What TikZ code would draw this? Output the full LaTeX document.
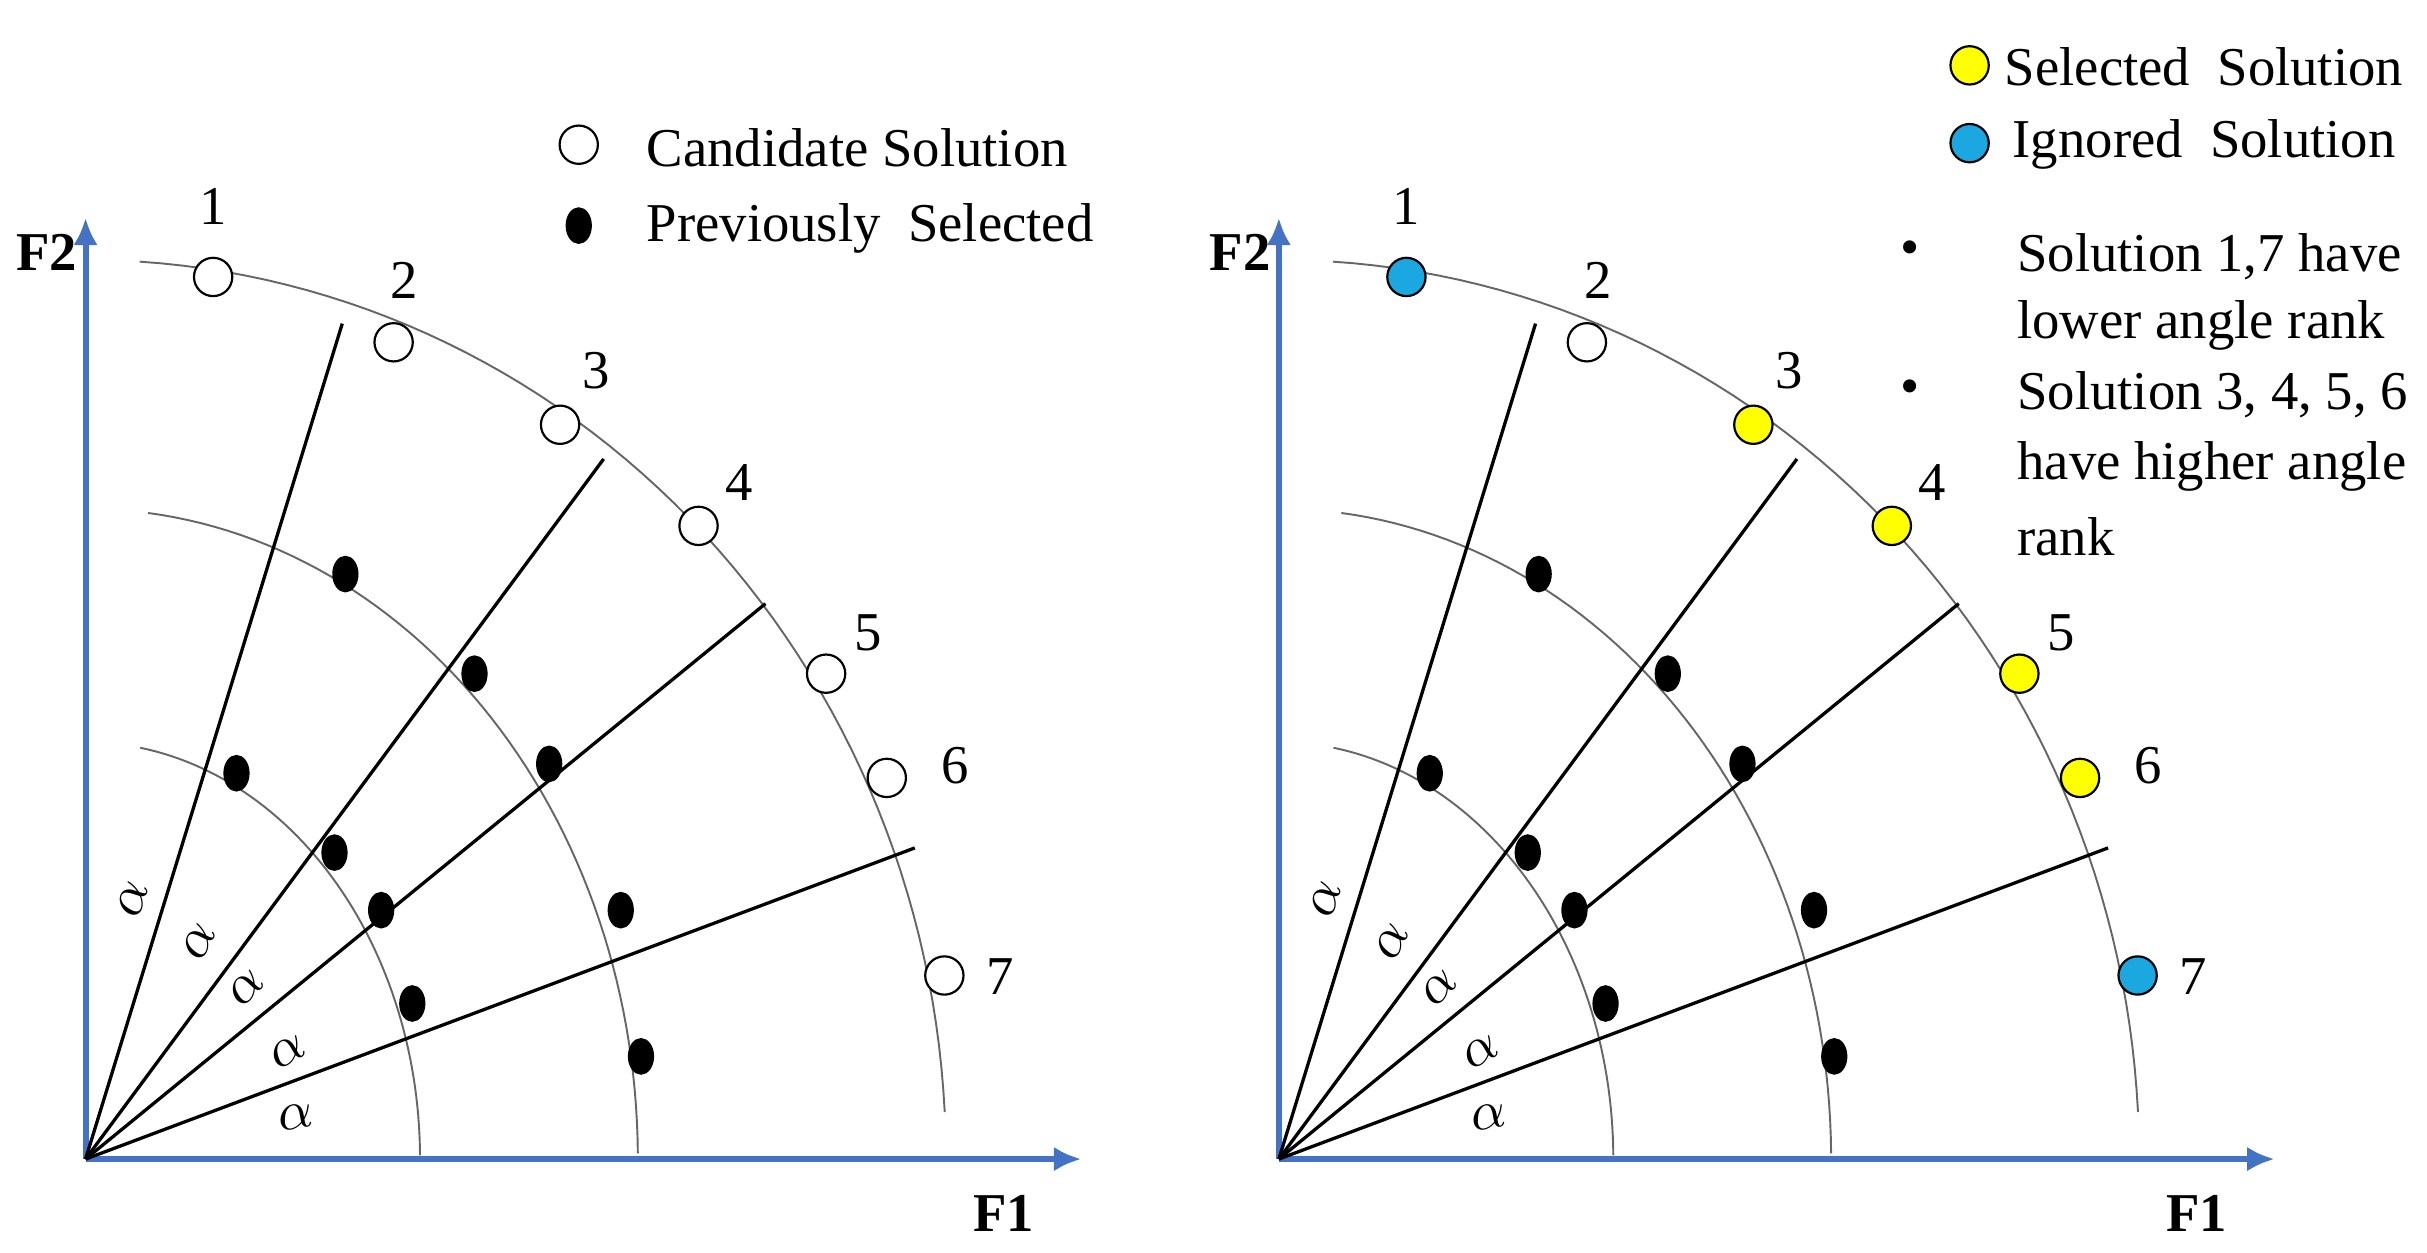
\documentclass[tikz,border=0pt]{standalone}
\usepackage{fontspec}
\setmainfont{Liberation Serif}
\definecolor{axisblue}{HTML}{4472C4}
\definecolor{ignblue}{HTML}{1BA8E0}
\definecolor{selyellow}{HTML}{FFFF00}
\usetikzlibrary{arrows.meta,shapes.geometric}
\tikzset{
  axis/.style={axisblue,line width=1.1pt,-{Latex[length=5pt,width=4.5pt]}},
  ray/.style={line width=0.6pt},
  front/.style={gray!80!black,line width=0.35pt},
  sol/.style={draw,circle,minimum size=7pt,inner sep=0pt,line width=0.4pt},
  prev/.style={draw,fill=black,ellipse,minimum width=4.4pt,minimum height=6.3pt,inner sep=0pt},
  txt/.style={font=\fontsize{10}{12}\selectfont,inner sep=0pt},
  lbl/.style={font=\fontsize{10}{12}\selectfont\bfseries,inner sep=0pt}
}
\newcommand{\panel}[4]{%
  \begin{scope}[xshift=#1*0.01cm]
    % axes
    \coordinate (O#4) at (55,745);
    \coordinate (X#4) at (695,745);
    \coordinate (Y#4) at (55,140);
    \draw[axis] (O#4) -- (X#4);
    \draw[axis] (O#4) -- (Y#4);
    \node[lbl] at (30,162) {F2};
    \node[lbl] at (645,780) {F1};
    % fronts
    \draw[front] plot[domain=3:86.4,samples=60] ({55+553*cos(\x)},{745-578*sin(\x)});
    \draw[front] plot[domain=0.5:83.5,samples=60] ({55+355*cos(\x)},{745-418*sin(\x)});
    \draw[front] plot[domain=0.5:80.6,samples=60] ({55+215*cos(\x)},{745-268*sin(\x)});
    % rays
    \coordinate (R#4a) at (220,208);
    \coordinate (R#4b) at (388,295);
    \coordinate (R#4c) at (492,388);
    \coordinate (R#4d) at (588,545);
    \draw[ray] (O#4) -- (R#4a);
    \draw[ray] (O#4) -- (R#4b);
    \draw[ray] (O#4) -- (R#4c);
    \draw[ray] (O#4) -- (R#4d);
    \node[txt,rotate=72] at (85,578) {$\alpha$};
    \node[txt,rotate=63] at (128,605) {$\alpha$};
    \node[txt,rotate=46] at (158,635) {$\alpha$};
    \node[txt,rotate=30] at (185,676) {$\alpha$};
    \node[txt,rotate=10] at (190,718) {$\alpha$};
    % previously selected
    \foreach \a/\b in {222/369,305/433,353/491,399/585,412/679,
                       152/497,215/548,245/585,265/645}
      \node[prev] at (\a,\b) {};
    % candidates
    \node[sol,fill=#2] (s#41) at (137,178) {};
    \node[sol,fill=white] (s#42) at (253,220) {};
    \node[sol,fill=#3] (s#43) at (360,273) {};
    \node[sol,fill=#3] (s#44) at (449,338) {};
    \node[sol,fill=#3] (s#45) at (531,433) {};
    \node[sol,fill=#3] (s#46) at (570,500) {};
    \node[sol,fill=#2] (s#47) at (607,627) {};
    \foreach \t/\a/\b in {1/137/133,2/260/180,3/383/238,4/475/310,
                          5/558/407,6/614/492,7/643/628}
      \node[txt] at (\a,\b) {\t};
  \end{scope}}
\begin{document}
\begin{tikzpicture}[x=0.01cm,y=-0.01cm]
  \useasboundingbox (0,0) rectangle (1560,805);
  \panel{0}{white}{white}{L}
  \panel{767}{ignblue}{selyellow}{R}
  % left legend
  \node[sol,fill=white] (legc) at (372,93) {};
  \node[txt,anchor=west] at (415,95) {Candidate Solution};
  \node[prev] (legp) at (372,145) {};
  \node[txt,anchor=west] at (415,147) {Previously\ \ Selected};
  % right legend
  \node[sol,fill=selyellow] (legs) at (1266,42) {};
  \node[txt,anchor=west] at (1288,43) {Selected\ \ Solution};
  \node[sol,fill=ignblue] (legi) at (1266,92) {};
  \node[txt,anchor=west] at (1293,93) {Ignored\ \ Solution};
  \node[txt] at (1228,163) {\textbullet};
  \node[txt,anchor=west] at (1296,165) {Solution 1,7 have};
  \node[txt,anchor=west] at (1296,209) {lower angle rank};
  \node[txt] at (1228,252) {\textbullet};
  \node[txt,anchor=west] at (1296,254) {Solution 3, 4, 5, 6};
  \node[txt,anchor=west] at (1296,300) {have higher angle};
  \node[txt,anchor=west] at (1296,345) {rank};
\end{tikzpicture}
\end{document}
